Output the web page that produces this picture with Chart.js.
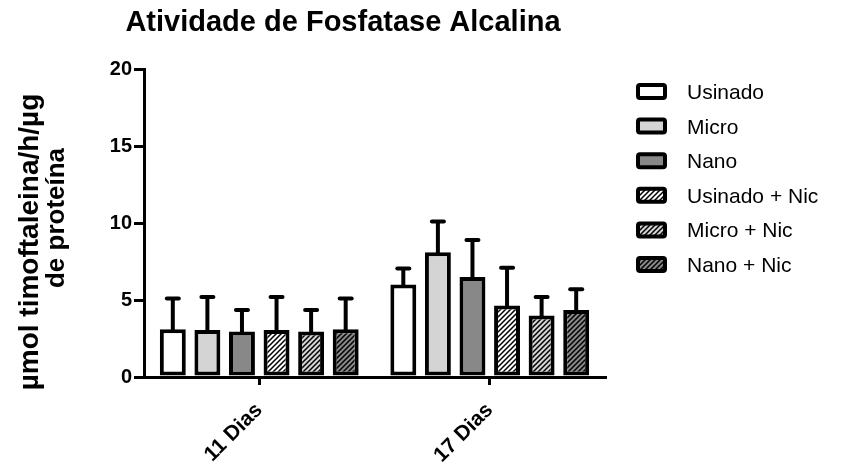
<!DOCTYPE html>
<html>
<head>
<meta charset="utf-8">
<script src="https://cdn.jsdelivr.net/npm/chart.js@4.4.1/dist/chart.umd.min.js"></script>
<style>
  html, body { margin: 0; padding: 0; background: #ffffff; }
  #wrap { width: 846px; height: 464px; position: relative; }
</style>
</head>
<body>
<div id="wrap"><canvas id="c" width="846" height="464"></canvas></div>
<script>
// Fosfatase alcalina: média e desvio (barra superior) por grupo
const categories = ['11 Dias', '17 Dias'];
const seriesNames = ['Usinado', 'Micro', 'Nano', 'Usinado + Nic', 'Micro + Nic', 'Nano + Nic'];

const usinado    = [3.10, 6.00];
const micro      = [3.05, 8.10];
const nano       = [2.95, 6.50];
const usinadoNic = [3.05, 4.65];
const microNic   = [2.95, 4.00];
const nanoNic    = [3.10, 4.35];

const usinadoSd    = [2.00, 1.05];
const microSd      = [2.15, 2.00];
const nanoSd       = [1.40, 2.40];
const usinadoNicSd = [2.15, 2.45];
const microNicSd   = [1.40, 1.20];
const nanoNicSd    = [2.00, 1.35];

const yTicks = [0, 5, 10, 15, 20];

const chartTitle = 'Atividade de Fosfatase Alcalina';
const yTitleLines = ['µmol timoftaleina/h/µg', 'de proteína'];

const FONT = '"Liberation Sans", Arial, Helvetica, sans-serif';
const WHITE = '#ffffff';
const LIGHT = '#d4d4d4';
const DARK = '#888888';

// diagonal hatch on a given background
function hatch(bg) {
  const s = 5;
  const p = document.createElement('canvas');
  p.width = s; p.height = s;
  const g = p.getContext('2d');
  g.fillStyle = bg;
  g.fillRect(0, 0, s, s);
  g.strokeStyle = '#000000';
  g.lineWidth = 1.5;
  g.beginPath();
  g.moveTo(-1, s + 1); g.lineTo(s + 1, -1);
  g.moveTo(-1, 1); g.lineTo(1, -1);
  g.moveTo(s - 1, s + 1); g.lineTo(s + 1, s - 1);
  g.stroke();
  return g.createPattern(p, 'repeat');
}

const ctx = document.getElementById('c').getContext('2d');

const fills = [WHITE, LIGHT, DARK, hatch(WHITE), hatch(LIGHT), hatch(DARK)];
const values = [usinado, micro, nano, usinadoNic, microNic, nanoNic];
const errors = [usinadoSd, microSd, nanoSd, usinadoNicSd, microNicSd, nanoNicSd];

const datasets = seriesNames.map((name, i) => ({
  label: name,
  data: values[i],
  sd: errors[i],
  backgroundColor: fills[i],
  borderColor: '#000000',
  borderWidth: 4,
  borderSkipped: false,
  categoryPercentage: 0.9,
  barPercentage: 0.75
}));

// upper error bars with caps
const errorBars = {
  id: 'errorBars',
  afterDatasetsDraw(chart) {
    const c = chart.ctx;
    const y = chart.scales.y;
    c.save();
    c.strokeStyle = '#000000';
    c.lineWidth = 4;
    chart.data.datasets.forEach((ds, di) => {
      const meta = chart.getDatasetMeta(di);
      meta.data.forEach((bar, j) => {
        const top = y.getPixelForValue(ds.data[j] + ds.sd[j]);
        c.lineCap = 'butt';
        c.beginPath();
        c.moveTo(bar.x, bar.y + 2);
        c.lineTo(bar.x, top);
        c.stroke();
        c.lineCap = 'round';
        c.beginPath();
        c.moveTo(bar.x - 6, top);
        c.lineTo(bar.x + 6, top);
        c.stroke();
      });
    });
    c.restore();
  }
};

// title, rotated axis title and legend
const decorations = {
  id: 'decorations',
  afterDraw(chart) {
    const c = chart.ctx;
    c.save();
    c.fillStyle = '#000000';

    c.font = 'bold 29px ' + FONT;
    c.textAlign = 'center';
    c.textBaseline = 'alphabetic';
    c.fillText(chartTitle, 343, 31);

    const yCenters = [[30, 242], [57, 218]];
    const ySizes = [28, 26];
    yTitleLines.forEach((t, i) => {
      c.save();
      c.font = 'bold ' + ySizes[i] + 'px ' + FONT;
      c.translate(yCenters[i][0], yCenters[i][1]);
      c.rotate(-Math.PI / 2);
      c.textBaseline = 'middle';
      c.fillText(t, 0, 0);
      c.restore();
    });

    c.font = '21px ' + FONT;
    c.textAlign = 'left';
    c.textBaseline = 'alphabetic';
    chart.data.datasets.forEach((ds, i) => {
      const top = 83 + i * 34.6;
      c.fillStyle = ds.backgroundColor;
      c.strokeStyle = '#000000';
      c.lineWidth = 4;
      c.beginPath();
      if (c.roundRect) c.roundRect(638, top + 2, 27, 13, 2);
      else c.rect(638, top + 2, 27, 13);
      c.fill();
      c.stroke();
      c.fillStyle = '#000000';
      c.fillText(ds.label, 687, top + 16);
    });
    c.restore();
  }
};

new Chart(ctx, {
  type: 'bar',
  data: { labels: categories, datasets },
  options: {
    responsive: false,
    animation: false,
    devicePixelRatio: 1,
    layout: { padding: { top: 69, right: 241, left: 0, bottom: 0 } },
    plugins: {
      legend: { display: false },
      title: { display: false },
      tooltip: { enabled: false }
    },
    scales: {
      x: {
        grid: {
          display: true,
          drawOnChartArea: false,
          drawTicks: true,
          tickLength: 8,
          color: '#000000',
          lineWidth: 3,
          offset: false
        },
        border: { display: true, color: '#000000', width: 3 },
        ticks: {
          color: '#000000',
          font: { family: FONT, size: 21, weight: 'bold' },
          maxRotation: 45,
          minRotation: 45,
          padding: 13
        },
        afterFit(s) { s.height = 87; }
      },
      y: {
        min: 0,
        max: 20,
        afterBuildTicks(s) { s.ticks = yTicks.map(v => ({ value: v })); },
        grid: {
          display: true,
          drawOnChartArea: false,
          drawTicks: true,
          tickLength: 10,
          color: '#000000',
          lineWidth: 3
        },
        border: { display: true, color: '#000000', width: 3 },
        ticks: {
          color: '#000000',
          font: { family: FONT, size: 20, weight: 'bold' },
          padding: 2
        },
        afterFit(s) { s.width = 144; }
      }
    }
  },
  plugins: [errorBars, decorations]
});
</script>
</body>
</html>
